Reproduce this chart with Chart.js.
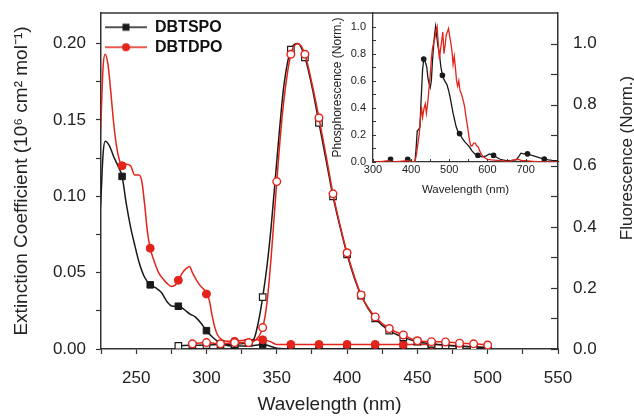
<!DOCTYPE html>
<html><head><meta charset="utf-8">
<script src="https://cdn.jsdelivr.net/npm/chart.js@4.4.1/dist/chart.umd.min.js"></script>
<style>
html,body{margin:0;padding:0;background:#fff;}
#wrap{position:relative;width:634px;height:416px;overflow:hidden;}
#main{position:absolute;left:0;top:0;}
#inset{position:absolute;left:320px;top:0;}
</style></head><body>
<div id="wrap"><canvas id="main" width="634" height="416"></canvas><canvas id="inset" width="250" height="200"></canvas></div>
<script>
// ---------- DATA ----------
const seriesNames = ['DBTSPO', 'DBTDPO'];

// Absorption (left axis, 10^6 cm^2 mol^-1)
const wlAbsSPO = [222,225,226.5,228,231,234,237,240,243,246,249,252,256,260,264,268,272,276,280,284,288,292,296,300,304,308,312,320,330,340,345,350,360,380,400,420,440,460,480,500];
const absSPO   = [0.05,0.100,0.128,0.136,0.133,0.126,0.120,0.113,0.095,0.080,0.068,0.057,0.047,0.042,0.040,0.037,0.031,0.028,0.028,0.026,0.023,0.021,0.017,0.012,0.008,0.005,0.003,0.002,0.002,0.003,0.002,0.0005,0,0,0,0,0,0,0,0];

const wlAbsDPO = [222,225,226.5,228,230,232,234,236,238,240,243,246,249,252,254,256,258,260,263,266,269,272,275,278,280,283,286,288,290,293,296,299,300,302,304,306,308,311,315,320,330,340,345,350,360,380,400,420,440,460,480,500];
const absDPO   = [0.09,0.15,0.185,0.193,0.186,0.168,0.148,0.133,0.124,0.120,0.121,0.120,0.114,0.114,0.110,0.095,0.077,0.066,0.057,0.050,0.046,0.043,0.041,0.042,0.045,0.050,0.053,0.054,0.050,0.045,0.041,0.038,0.036,0.032,0.022,0.014,0.009,0.006,0.005,0.005,0.006,0.006,0.005,0.003,0.003,0.003,0.003,0.003,0.003,0.003,0.002,0.001];

// Fluorescence (right axis, normalized)
const wlFlSPO = [278,280,290,300,310,320,330,334,337,340,343,346,349,352,355,360,365,370,375,380,385,390,395,400,405,410,415,420,430,440,450,460,470,480,490,500];
const flSPO   = [0,0.010,0.012,0.013,0.015,0.016,0.020,0.035,0.09,0.17,0.27,0.40,0.56,0.72,0.86,0.98,1.0,0.955,0.86,0.74,0.62,0.50,0.40,0.31,0.235,0.175,0.132,0.10,0.06,0.038,0.024,0.017,0.012,0.009,0.007,0.005];

const wlFlDPO = [290,300,310,320,330,335,340,343,346,350,353,356,360,365,370,375,380,385,390,395,400,405,410,415,420,430,440,450,460,470,480,490,500];
const flDPO   = [0.017,0.021,0.017,0.021,0.021,0.03,0.07,0.15,0.30,0.548,0.72,0.85,0.965,1.0,0.965,0.87,0.757,0.635,0.508,0.405,0.315,0.24,0.177,0.135,0.105,0.067,0.046,0.027,0.024,0.023,0.019,0.017,0.013];

// Inset: phosphorescence (normalized)
const wlPhSPO = [300,320,340,346,352,370,385,391,397,405,410,413,416,420,423,426,430,433,437,441,444,447,450,453,456,460,464,467,470,474,478,482,486,490,494,498,502,506,510,514,518,522,527,533,540,547,553,560,567,575,583,590,597,605,611,616,624,632,640,649,660,675,682,688,695,705,715,727,738,749,760,770,785];
const phSPO   = [0,0,0.005,0.02,0.005,0,0.005,0.02,0.01,0,0,0.1,0.23,0.24,0.26,0.45,0.68,0.76,0.74,0.70,0.62,0.58,0.55,0.60,0.75,0.90,1.0,0.93,0.86,0.80,0.70,0.64,0.61,0.59,0.57,0.53,0.48,0.42,0.36,0.31,0.26,0.23,0.21,0.18,0.15,0.13,0.11,0.08,0.06,0.05,0.04,0.04,0.045,0.06,0.055,0.05,0.035,0.022,0.015,0.01,0.01,0.015,0.04,0.065,0.06,0.06,0.05,0.04,0.03,0.022,0.015,0.012,0.01];
const phMarkersSPO = [346,391,433,482,527,575,616,705,749];

const wlPhDPO = [300,320,340,350,370,390,405,410,414,418,421,424,427,430,434,437,440,444,447,450,453,456,459,462,465,468,471,474,477,480,483,486,489,492,495,498,501,504,507,510,513,516,519,522,525,528,532,536,540,544,548,552,556,560,564,568,572,576,580,584,588,594,600,610,625,640,655,670,680,690,700,720,740,785];
const phDPO   = [0,0.003,0.01,0,0.005,0.01,0,0,0.06,0.14,0.2,0.3,0.41,0.33,0.4,0.43,0.36,0.45,0.55,0.64,0.76,0.84,0.88,0.91,0.97,1.0,0.88,0.76,0.83,0.89,0.96,0.8,0.86,0.94,0.96,0.985,0.93,0.88,0.82,0.72,0.78,0.7,0.6,0.56,0.6,0.53,0.5,0.46,0.41,0.33,0.26,0.18,0.12,0.12,0.14,0.14,0.12,0.11,0.08,0.06,0.04,0.03,0.02,0.015,0.012,0.008,0.005,0.015,0.02,0.01,0.01,0.005,0,0];

// ---------- STYLE / BUILD ----------
const FONT = "'Liberation Sans', Arial, Helvetica, sans-serif";
const BLACK = '#1a1a1a', RED = '#e3241b', AXIS = '#333', TXT = '#222';
Chart.defaults.font.family = FONT;
Chart.defaults.color = TXT;

const pts = (xs, ys) => xs.map((x, i) => ({x, y: ys[i]}));
const noPad = s => { s.paddingTop = 0; s.paddingBottom = 0; s.paddingLeft = 0; s.paddingRight = 0; };

function legendIcon(color, shape) {
  const c = document.createElement('canvas'); c.width = 42; c.height = 12;
  const g = c.getContext('2d');
  g.strokeStyle = color; g.lineWidth = 1.5;
  g.beginPath(); g.moveTo(0, 6); g.lineTo(42, 6); g.stroke();
  g.fillStyle = color;
  if (shape === 'rect') g.fillRect(17.5, 2.5, 7, 7);
  else { g.beginPath(); g.arc(21, 6, 4, 0, Math.PI * 2); g.fill(); }
  return c;
}
const iconSPO = legendIcon(BLACK, 'rect');
const iconDPO = legendIcon(RED, 'circle');

const isTick = (v, step) => Math.abs(Math.round(v / step) * step - v) < 1e-6;

const mainDecor = {
  id: 'mainDecor',
  afterDraw(chart) {
    const {ctx, chartArea: a, scales} = chart;
    ctx.save();
    ctx.strokeStyle = AXIS; ctx.lineWidth = 1.5;
    ctx.beginPath(); ctx.moveTo(a.left, a.top); ctx.lineTo(a.right, a.top); ctx.stroke();
    const y2 = scales.y2;
    ctx.lineWidth = 1.2;
    y2.ticks.forEach(t => {
      const py = Math.round(y2.getPixelForValue(t.value)) + 0.5;
      ctx.beginPath(); ctx.moveTo(a.right, py); ctx.lineTo(a.right - 7, py); ctx.stroke();
    });
    ctx.fillStyle = TXT;
    ctx.font = `17px ${FONT}`;
    ctx.textAlign = 'center'; ctx.textBaseline = 'middle';
    ctx.translate(627, 158); ctx.rotate(-Math.PI / 2);
    ctx.fillText('Fluorescence (Norm.)', 0, 0);
    ctx.restore();
  }
};

new Chart(document.getElementById('main'), {
  type: 'line',
  data: {
    datasets: [
      { label: seriesNames[1] + ' FL', data: pts(wlFlDPO, flDPO), yAxisID: 'y2',
        borderColor: RED, borderWidth: 1.5, tension: 0.3, cubicInterpolationMode: 'monotone',
        pointStyle: 'circle', pointRadius: c => isTick(c.raw.x, 10) ? 3.8 : 0,
        pointBackgroundColor: '#fff', pointBorderColor: RED, pointBorderWidth: 1.4 },
      { label: seriesNames[0] + ' FL', data: pts(wlFlSPO, flSPO), yAxisID: 'y2',
        borderColor: BLACK, borderWidth: 1.5, tension: 0.3, cubicInterpolationMode: 'monotone',
        pointStyle: 'rect', pointRadius: c => (isTick(c.raw.x, 10) && c.raw.x >= 280) ? 4.6 : 0,
        pointBackgroundColor: '#fff', pointBorderColor: BLACK, pointBorderWidth: 1.2 },
      { label: seriesNames[1], data: pts(wlAbsDPO, absDPO), yAxisID: 'y',
        borderColor: RED, borderWidth: 1.5, cubicInterpolationMode: 'monotone',
        pointStyle: 'circle', pointRadius: c => (isTick(c.raw.x, 20) && c.raw.x >= 240 && c.raw.x <= 480) ? 4 : 0,
        pointBackgroundColor: RED, pointBorderColor: RED, pointBorderWidth: 1 },
      { label: seriesNames[0], data: pts(wlAbsSPO, absSPO), yAxisID: 'y',
        borderColor: BLACK, borderWidth: 1.5, cubicInterpolationMode: 'monotone',
        pointStyle: 'rect', pointRadius: c => (isTick(c.raw.x, 20) && c.raw.x >= 240) ? 4.6 : 0,
        pointBackgroundColor: BLACK, pointBorderColor: BLACK, pointBorderWidth: 1 }
    ]
  },
  options: {
    responsive: false, animation: false, devicePixelRatio: 1,
    layout: { padding: { top: 13, left: 0, right: 0, bottom: 0 } },
    plugins: {
      tooltip: { enabled: false },
      legend: {
        position: 'chartArea', align: 'start',
        title: { display: true, text: ' ', font: { size: 1 }, padding: { top: 14, bottom: 0 } },
        labels: {
          usePointStyle: true, pointStyleWidth: 42, padding: 4,
          font: { size: 16, weight: 'bold', family: FONT }, color: '#111',
          generateLabels: () => [
            { text: seriesNames[0], pointStyle: iconSPO, fillStyle: 'transparent', strokeStyle: 'transparent', lineWidth: 0, hidden: false, datasetIndex: 3, fontColor: '#111' },
            { text: seriesNames[1], pointStyle: iconDPO, fillStyle: 'transparent', strokeStyle: 'transparent', lineWidth: 0, hidden: false, datasetIndex: 2, fontColor: '#111' }
          ]
        }
      }
    },
    scales: {
      x: {
        type: 'linear', min: 225, max: 550,
        ticks: { stepSize: 25, autoSkip: false, maxRotation: 0, padding: 14, font: { size: 17 }, color: TXT,
                 callback: v => isTick(v, 50) ? String(v) : '' },
        afterFit: s => { s.height = 67; noPad(s); },
        grid: { drawOnChartArea: false, drawTicks: true, tickLength: 5, color: AXIS, tickWidth: 1.2 },
        border: { display: true, color: AXIS, width: 1.5 },
        title: { display: true, text: 'Wavelength (nm)', font: { size: 19 }, color: TXT, padding: { top: 0, bottom: 0 } }
      },
      y: {
        type: 'linear', position: 'left', min: 0, max: 0.22,
        ticks: { stepSize: 0.025, autoSkip: false, padding: 10, font: { size: 17 }, color: TXT,
                 callback: v => isTick(v, 0.05) ? v.toFixed(2) : '' },
        afterBuildTicks: s => { s.ticks = s.ticks.filter(t => t.value <= 0.2001); },
        afterFit: s => { s.width = 101; noPad(s); },
        grid: { drawOnChartArea: false, drawTicks: true, tickLength: 5, color: AXIS, tickWidth: 1.2 },
        border: { display: true, color: AXIS, width: 1.5 },
        title: { display: true, text: 'Extinction Coefficient (10⁶ cm² mol⁻¹)', font: { size: 19 }, color: TXT, padding: { top: 10, bottom: 0 } }
      },
      y2: {
        type: 'linear', position: 'right', min: 0, max: 1.1,
        ticks: { stepSize: 0.1, autoSkip: false, padding: 15, font: { size: 17 }, color: TXT,
                 callback: v => isTick(v, 0.2) ? v.toFixed(1) : '' },
        afterBuildTicks: s => { s.ticks = s.ticks.filter(t => t.value <= 1.0001); },
        afterFit: s => { s.width = 76; noPad(s); },
        grid: { drawOnChartArea: false, drawTicks: false },
        border: { display: true, color: AXIS, width: 1.5 }
      }
    }
  },
  plugins: [mainDecor]
});

const insetDecor = {
  id: 'insetDecor',
  afterDraw(chart) {
    const {ctx, chartArea: a, scales} = chart;
    ctx.save();
    ctx.strokeStyle = AXIS; ctx.lineWidth = 1;
    scales.x.ticks.forEach(t => {
      const px = Math.round(scales.x.getPixelForValue(t.value)) + 0.5;
      ctx.beginPath(); ctx.moveTo(px, a.bottom); ctx.lineTo(px, a.bottom - 3); ctx.stroke();
    });
    scales.y.ticks.forEach(t => {
      const py = Math.round(scales.y.getPixelForValue(t.value)) + 0.5;
      ctx.beginPath(); ctx.moveTo(a.left, py); ctx.lineTo(a.left + 3, py); ctx.stroke();
    });
    ctx.restore();
  }
};

new Chart(document.getElementById('inset'), {
  type: 'line',
  data: {
    datasets: [
      { label: seriesNames[1], data: pts(wlPhDPO, phDPO), borderColor: RED, borderWidth: 1.3, pointRadius: 0, tension: 0 },
      { label: seriesNames[0], data: pts(wlPhSPO, phSPO), borderColor: BLACK, borderWidth: 1.3, tension: 0,
        pointRadius: c => phMarkersSPO.includes(c.raw.x) ? 2.2 : 0, pointBackgroundColor: BLACK, pointBorderColor: BLACK }
    ]
  },
  options: {
    responsive: false, animation: false, devicePixelRatio: 1,
    layout: { padding: { top: 13, right: 12, left: 0, bottom: 0 } },
    plugins: { legend: { display: false }, tooltip: { enabled: false } },
    scales: {
      x: {
        type: 'linear', min: 300, max: 785,
        ticks: { stepSize: 50, autoSkip: false, maxRotation: 0, padding: 1, font: { size: 11 }, color: TXT,
                 callback: v => isTick(v, 100) ? String(v) : '' },
        afterBuildTicks: s => { s.ticks = s.ticks.filter(t => isTick(t.value, 50)); },
        afterFit: s => { s.height = 38; noPad(s); },
        grid: { drawOnChartArea: false, drawTicks: false },
        border: { display: true, color: AXIS, width: 1.3 },
        title: { display: true, text: 'Wavelength (nm)', font: { size: 11.5 }, color: TXT, padding: { top: 0, bottom: 3 } }
      },
      y: {
        type: 'linear', min: 0, max: 1.1,
        ticks: { stepSize: 0.1, autoSkip: false, padding: 7, font: { size: 11 }, color: TXT,
                 callback: v => isTick(v, 0.2) ? v.toFixed(1) : '' },
        afterBuildTicks: s => { s.ticks = s.ticks.filter(t => t.value <= 1.0001); },
        afterFit: s => { s.width = 53; noPad(s); },
        grid: { drawOnChartArea: false, drawTicks: false },
        border: { display: true, color: AXIS, width: 1.3 },
        title: { display: true, text: 'Phosphorescence (Norm.)', font: { size: 12 }, color: TXT, padding: { top: 10, bottom: 0 } }
      }
    }
  },
  plugins: [insetDecor]
});
</script>
</body></html>
